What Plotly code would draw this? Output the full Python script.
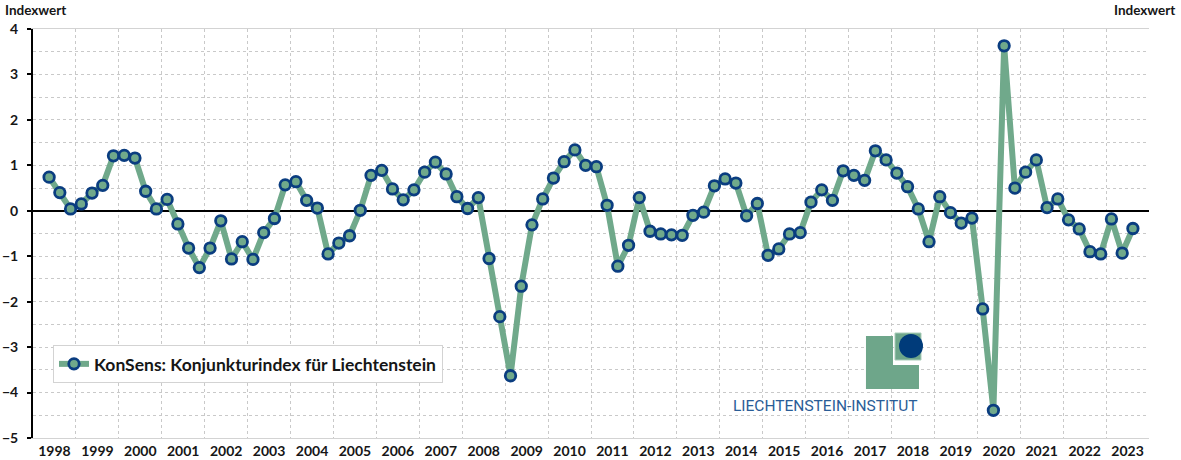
import plotly.graph_objects as go

# ---- data -------------------------------------------------------------
years = list(range(1998, 2024))            # category years shown on x axis
start_year, start_quarter = 1998, 2         # first observation: 1998 Q2
konsens = [
    0.74, 0.40, 0.04,                                   # 1998 Q2-Q4
    0.15, 0.39, 0.56, 1.21,                             # 1999
    1.22, 1.16, 0.43, 0.04,                             # 2000
    0.25, -0.29, -0.82, -1.25,                          # 2001
    -0.82, -0.22, -1.06, -0.68,                         # 2002
    -1.07, -0.48, -0.17, 0.57,                          # 2003
    0.64, 0.23, 0.06, -0.95,                            # 2004
    -0.71, -0.55, 0.01, 0.78,                           # 2005
    0.89, 0.48, 0.24, 0.46,                             # 2006
    0.85, 1.07, 0.81, 0.31,                             # 2007
    0.05, 0.29, -1.05, -2.33,                           # 2008
    -3.63, -1.66, -0.31, 0.26,                          # 2009
    0.72, 1.08, 1.34, 1.00,                             # 2010
    0.97, 0.12, -1.22, -0.76,                           # 2011
    0.29, -0.45, -0.51, -0.53,                          # 2012
    -0.54, -0.10, -0.03, 0.55,                          # 2013
    0.70, 0.61, -0.11, 0.16,                            # 2014
    -0.98, -0.84, -0.51, -0.48,                         # 2015
    0.19, 0.46, 0.23, 0.88,                             # 2016
    0.78, 0.67, 1.32, 1.12,                             # 2017
    0.83, 0.53, 0.04, -0.68,                            # 2018
    0.31, -0.04, -0.27, -0.16,                          # 2019
    -2.16, -4.39, 3.63, 0.50,                           # 2020
    0.85, 1.12, 0.07, 0.26,                             # 2021
    -0.20, -0.40, -0.90, -0.95,                         # 2022
    -0.18, -0.93, -0.39,                                # 2023 Q1-Q3
]
series_name = "KonSens: Konjunkturindex für Liechtenstein"
y_min, y_max = -5, 4

# quarter positions (centre of each quarter within its year)
x_pos = []
for i in range(len(konsens)):
    q = (start_quarter - 1) + i
    x_pos.append(start_year + q // 4 + (q % 4) / 4 + 0.125)

# ---- styles -----------------------------------------------------------
GREEN = "#70a98b"
NAVY = "#0a3d80"
GRID = "#c9c9c9"
TXT = "#161616"
FONT = "Lato"

x_rng = [years[0], years[-1] + 1]
y_rng = [y_min, y_max]

fig = go.Figure()
fig.add_trace(go.Scatter(
    x=x_pos, y=konsens, mode="lines+markers", name=series_name,
    line=dict(color=GREEN, width=6),
    marker=dict(size=10.5, color=GREEN, line=dict(color=NAVY, width=2.8)),
    hoverinfo="x+y",
))

bold = dict(family=FONT, size=14, color=TXT, weight="bold")
boundaries = list(range(years[0], years[-1] + 2))
zero_pos = (0 - y_min) / (y_max - y_min)

fig.update_layout(
    width=1181, height=460,
    margin=dict(l=33, r=32, t=29, b=22, autoexpand=False),
    paper_bgcolor="white", plot_bgcolor="white",
    font=dict(family=FONT, color=TXT),
    showlegend=True,
    legend=dict(
        x=0.0179, y=0.2274, xanchor="left", yanchor="top",
        bgcolor="white", bordercolor="#d3d3d3", borderwidth=1,
        font=dict(family=FONT, size=17.5, color=TXT, weight="bold"),
        itemwidth=30,
    ),
    xaxis=dict(
        range=x_rng, tickmode="array", automargin=False,
        tickvals=[y + 0.5 for y in years], ticktext=[str(y) for y in years],
        ticks="", showgrid=False, zeroline=False,
        showline=True, linecolor="#d3d3d3", linewidth=1, mirror=True,
        tickfont=bold,
        minor=dict(tickmode="array", tickvals=boundaries, showgrid=True,
                   gridcolor=GRID, griddash="dot", gridwidth=1, ticks=""),
        fixedrange=True,
    ),
    xaxis2=dict(
        overlaying="x", anchor="free", position=zero_pos, range=x_rng, automargin=False,
        tickmode="array", tickvals=boundaries, ticks="outside", ticklen=4,
        tickwidth=2, tickcolor="black", showticklabels=False, showgrid=False,
        showline=False, zeroline=False,
    ),
    xaxis3=dict(
        overlaying="x", anchor="free", position=zero_pos, range=x_rng, automargin=False,
        tickmode="array", tickvals=boundaries, ticks="inside", ticklen=4,
        tickwidth=2, tickcolor="black", showticklabels=False, showgrid=False,
        showline=False, zeroline=False,
    ),
    yaxis=dict(
        range=y_rng, dtick=1, tick0=0, side="left", automargin=False,
        ticks="outside", ticklen=4, tickwidth=2, tickcolor="black",
        showline=True, linecolor="black", linewidth=2,
        showgrid=True, gridcolor=GRID, griddash="dot", gridwidth=1,
        minor=dict(dtick=0.5, showgrid=True, gridcolor=GRID, griddash="dot", gridwidth=1),
        zeroline=True, zerolinecolor="black", zerolinewidth=2,
        tickfont=bold, ticklabelstandoff=6, fixedrange=True,
    ),
    yaxis3=dict(
        overlaying="y", side="left", anchor="x", range=y_rng, dtick=1, tick0=0,
        automargin=False,
        ticks="inside", ticklen=4, tickwidth=2, tickcolor="black",
        showticklabels=False, showgrid=False, zeroline=False, showline=False,
    ),
    yaxis2=dict(
        overlaying="y", side="right", anchor="x", range=y_rng, dtick=1, tick0=0,
        automargin=False,
        ticks="outside", ticklen=4, tickwidth=2, tickcolor="black",
        showline=True, linecolor="black", linewidth=2,
        showgrid=False, zeroline=False, tickfont=bold, ticklabelstandoff=6,
    ),
    yaxis4=dict(
        overlaying="y", side="right", anchor="x", range=y_rng, dtick=1, tick0=0,
        automargin=False,
        ticks="inside", ticklen=4, tickwidth=2, tickcolor="black",
        showticklabels=False, showgrid=False, zeroline=False, showline=False,
    ),
)

# axis titles
title_font = dict(family=FONT, size=13.5, color=TXT, weight="bold")
fig.add_annotation(text="Indexwert", xref="paper", yref="paper", x=-0.0269, y=1.0709,
                   xanchor="left", yanchor="top", showarrow=False, font=title_font)
fig.add_annotation(text="Indexwert", xref="paper", yref="paper", x=1.0251, y=1.0709,
                   xanchor="right", yanchor="top", showarrow=False, font=title_font)

# logo (decorative)
LOGO_G = "#6ea68a"
fig.add_shape(type="rect", xref="paper", yref="paper", x0=0.7464, x1=0.7706,
              y0=0.1198, y1=0.2494, fillcolor=LOGO_G, line=dict(width=0), layer="above")
fig.add_shape(type="rect", xref="paper", yref="paper", x0=0.7464, x1=0.7939,
              y0=0.1198, y1=0.1785, fillcolor=LOGO_G, line=dict(width=0), layer="above")
fig.add_shape(type="rect", xref="paper", yref="paper", x0=0.7724, x1=0.7957,
              y0=0.1907, y1=0.2567, fillcolor=LOGO_G, line=dict(color="#a9cdb9", width=1),
              layer="above")
fig.add_shape(type="circle", xref="paper", yref="paper", x0=0.7760, x1=0.7975,
              y0=0.1956, y1=0.2543, fillcolor="#003b7a", line=dict(width=0), layer="above")
fig.add_annotation(text="LIECHTENSTEIN-INSTITUT", xref="paper", yref="paper",
                   x=0.7097, y=0.079, xanchor="center", yanchor="middle", showarrow=False,
                   font=dict(family="Roboto", size=15.5, color="#2a5d97"))

fig.write_html("out.html", config=dict(displayModeBar=False),
               post_script="document.body.style.margin='0px';")
